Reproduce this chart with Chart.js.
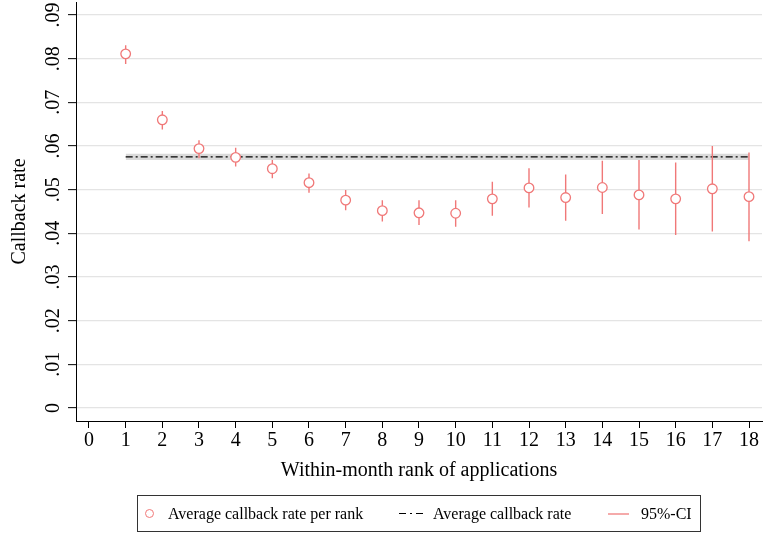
<!DOCTYPE html>
<html>
<head>
<meta charset="utf-8">
<script src="https://cdn.jsdelivr.net/npm/chart.js@4"></script>
<style>
  body { margin: 0; background: #fff; font-family: 'Liberation Serif', 'Times New Roman', serif; }
  #wrap { position: relative; width: 763px; height: 535px; }
  #legend { position: absolute; left: 137px; top: 495px; width: 564px; height: 37px; border: 1px solid #333; box-sizing: border-box; font-size: 16px; color: #000; }
  #legend .txt { position: absolute; top: 50%; transform: translateY(-50%); white-space: nowrap; }
  #legend .mk { position: absolute; }
</style>
</head>
<body>
<div id="wrap">
  <canvas id="c" width="763" height="535"></canvas>
  <div id="legend">
    <div class="mk" style="left:7px;top:13px;width:7px;height:7px;border:1.2px solid rgb(240,120,120);border-radius:50%;"></div>
    <div class="txt" style="left:30px;">Average callback rate per rank</div>
    <div class="mk" style="left:261px;top:17px;width:7px;height:1px;background:#000;"></div>
    <div class="mk" style="left:272px;top:17px;width:2px;height:1px;background:#000;"></div>
    <div class="mk" style="left:278px;top:17px;width:7px;height:1px;background:#000;"></div>
    <div class="txt" style="left:295px;">Average callback rate</div>
    <div class="mk" style="left:470px;top:17px;width:21px;height:2px;background:rgb(245,170,170);"></div>
    <div class="txt" style="left:503px;">95%-CI</div>
  </div>
</div>
<script>
// within-month rank
const ranks = [1, 2, 3, 4, 5, 6, 7, 8, 9, 10, 11, 12, 13, 14, 15, 16, 17, 18];
// average callback rate per rank
const rates = [.0811, .0660, .0594, .0574, .0548, .0516, .0476, .0452, .0447, .0446, .0479, .0504, .0482, .0505, .0488, .0479, .0502, .0484];
// 95% CI
const ciLow = [.0788, .0638, .0572, .0553, .0526, .0493, .0453, .0427, .0419, .0415, .0440, .0459, .0429, .0444, .0409, .0396, .0404, .0382];
const ciHigh = [.0831, .0680, .0613, .0596, .0568, .0537, .0499, .0476, .0476, .0476, .0518, .0549, .0535, .0566, .0568, .0562, .0600, .0585];
// overall average and its band
const avgRate = 0.0575;
const avgLow = 0.0568;
const avgHigh = 0.0582;

const xTicks = [0, 1, 2, 3, 4, 5, 6, 7, 8, 9, 10, 11, 12, 13, 14, 15, 16, 17, 18];
const yTicks = [0, .01, .02, .03, .04, .05, .06, .07, .08, .09];
const yTickLabels = ['0', '.01', '.02', '.03', '.04', '.05', '.06', '.07', '.08', '.09'];

const red = 'rgb(240,120,120)';
const serif = "'Liberation Serif', 'Times New Roman', serif";

// error bars: pairs of points with a gap between them
var ciData = [];
for (let i = 0; i < ranks.length; i++) {
  ciData.push({ x: ranks[i], y: ciLow[i] });
  ciData.push({ x: ranks[i], y: ciHigh[i] });
  ciData.push({ x: ranks[i], y: null });
}
var first = ranks[0], last = ranks[ranks.length - 1];

new Chart(document.getElementById('c'), {
  type: 'scatter',
  data: {
    datasets: [
      { // band low
        type: 'line', data: [{ x: first, y: avgLow }, { x: last, y: avgLow }],
        borderWidth: 0, pointRadius: 0, fill: false, order: 5
      },
      { // band high
        type: 'line', data: [{ x: first, y: avgHigh }, { x: last, y: avgHigh }],
        borderWidth: 0, pointRadius: 0, fill: '-1', backgroundColor: 'rgba(205,205,205,0.75)', order: 4
      },
      {
        type: 'line', label: 'Average callback rate',
        data: [{ x: first, y: avgRate }, { x: last, y: avgRate }],
        borderColor: '#000', borderWidth: 1.3, borderDash: [7, 3, 2, 3], pointRadius: 0, fill: false, order: 3
      },
      {
        type: 'line', label: '95%-CI', data: ciData,
        borderColor: red, borderWidth: 1.4, pointRadius: 0, spanGaps: false, fill: false, order: 2
      },
      {
        label: 'Average callback rate per rank',
        data: ranks.map((r, i) => ({ x: r, y: rates[i] })),
        pointRadius: 4.8, pointBorderWidth: 1.3, pointBorderColor: red, pointBackgroundColor: '#fff', order: 1
      }
    ]
  },
  options: {
    responsive: false,
    animation: false,
    layout: { autoPadding: false, padding: { left: 0, top: 2, right: 1, bottom: 44 } },
    plugins: { legend: { display: false }, tooltip: { enabled: false } },
    scales: {
      x: {
        type: 'linear', min: -0.3545, max: 18.3545,
        afterBuildTicks: s => { s.ticks = xTicks.map(v => ({ value: v })); },
        afterFit: s => { s.height = 70; s.paddingLeft = 0; s.paddingRight = 0; },
        grid: { drawOnChartArea: false, drawTicks: true, tickLength: 7, tickColor: '#000', tickWidth: 1 },
        border: { color: '#000', width: 1 },
        ticks: { autoSkip: false, maxRotation: 0, padding: 1, color: '#000', font: { family: serif, size: 20 } },
        title: { display: true, text: 'Within-month rank of applications', color: '#000', font: { family: serif, size: 20 }, padding: { top: 0, bottom: 8 } }
      },
      y: {
        type: 'linear', min: -0.00298, max: 0.09298,
        afterBuildTicks: s => { s.ticks = yTicks.map(v => ({ value: v })); },
        afterFit: s => { s.width = 76; s.paddingTop = 0; s.paddingBottom = 0; },
        grid: { color: '#e4e4e4', lineWidth: 1.3, drawTicks: true, tickLength: 8, tickColor: '#000', tickWidth: 1 },
        border: { color: '#000', width: 1 },
        ticks: {
          autoSkip: false, minRotation: 90, maxRotation: 90, crossAlign: 'center', padding: 2,
          color: '#000', font: { family: serif, size: 20 },
          callback: (v) => { const k = yTicks.indexOf(v); return k >= 0 ? yTickLabels[k] : ''; }
        },
        title: { display: true, text: 'Callback rate', color: '#000', font: { family: serif, size: 20 }, padding: { top: 8, bottom: 0 } }
      }
    }
  }
});
</script>
</body>
</html>
